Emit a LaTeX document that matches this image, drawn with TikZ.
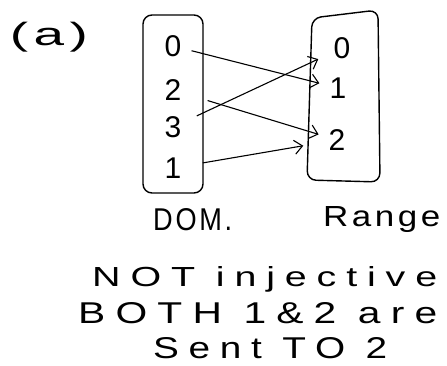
\documentclass[tikz,border=0pt]{standalone}
\usepackage{fontspec}
\setmainfont{Liberation Sans}
\usepackage{graphicx}
\usetikzlibrary{arrows.meta}
\newcommand{\fittext}[4][20]{\resizebox{#2}{#3}{\addfontfeature{LetterSpace=#1}#4}}
\begin{document}
\begin{tikzpicture}[x=1pt,y=-1pt,
  boxline/.style={line width=1.4pt, rounded corners=9pt},
  elem/.style={circle, minimum size=38pt, inner sep=0pt, font=\fontsize{30}{30}\selectfont},
  mapto/.style={line width=1.1pt, -{Straight Barb[length=8pt,width=14pt,line width=1.1pt]}},
  txt/.style={anchor=base west, inner sep=0pt}]
\useasboundingbox (0,0) rectangle (447,366);
\node[inner sep=0pt] (lbl) at (49,37) {\resizebox*{78pt}{30pt}{\addfontfeature{LetterSpace=10}(a)}};
% boxes
\draw[boxline] (143,15) rectangle (203,193);
\draw[boxline] (312,18) -- (378,10) -- (380,182) -- (307,180) -- cycle;
% domain elements
\node[elem] (d0) at (173,46) {0};
\node[elem] (d2) at (173,90) {2};
\node[elem] (d3) at (173,127) {3};
\node[elem] (d1) at (173,168) {1};
% range elements
\node[elem] (r0) at (342,48) {0};
\node[elem] (r1) at (338,88) {1};
\node[elem] (r2) at (337,140) {2};
% mappings
\draw[mapto] (d0) -- (r1);
\draw[mapto, shorten <=17pt] (d2) -- (r2);
\draw[mapto, shorten <=7pt, shorten >=7pt] (d3) -- (r0);
\draw[mapto, shorten <=11pt, shorten >=15pt] (d1) -- (r2);
% texts
\node[txt] (dom) at (153,230) {\fittext[10]{79pt}{22pt}{DOM.}};
\node[txt] (range) at (323,227) {\fittext[10]{117pt}{20pt}{Range}};
\node[txt] (line1) at (92,286) {\fittext[25]{345pt}{20pt}{NOT injective}};
\node[txt] (line2) at (78,323) {\fittext[25]{359pt}{21pt}{BOTH 1\&2 are}};
\node[txt] (line3) at (153,358) {\fittext[25]{234pt}{21pt}{Sent TO 2}};
\end{tikzpicture}
\end{document}
